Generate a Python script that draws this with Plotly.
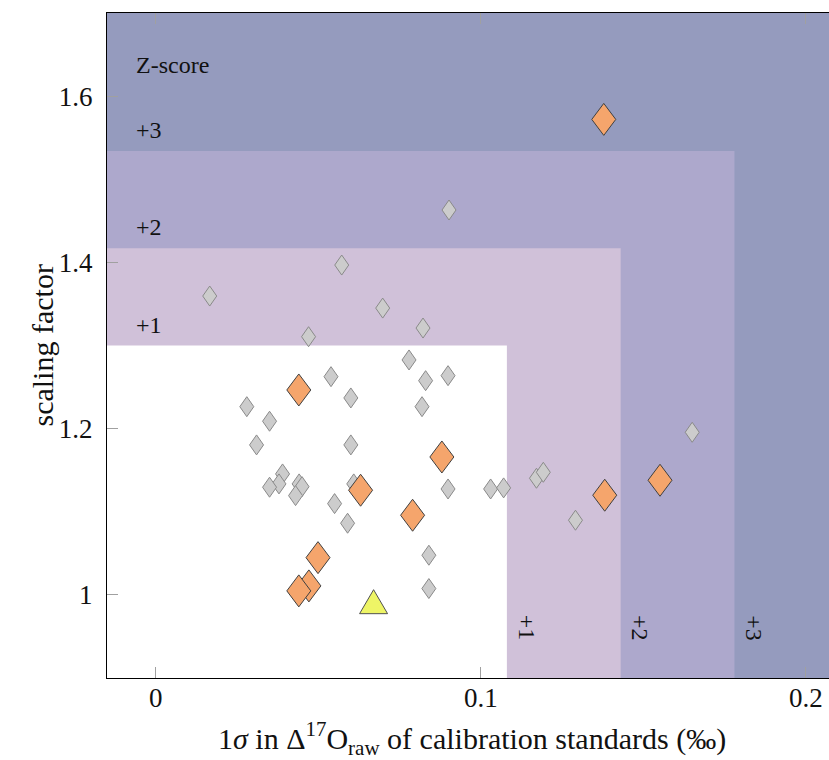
import plotly.graph_objects as go

# Calibration standards: 1-sigma spread of raw Δ17O vs. scaling factor
gray_x = [0.0166, 0.0572, 0.0698, 0.0902, 0.0822, 0.0470, 0.0779, 0.0539, 0.0830,
          0.0899, 0.0280, 0.0600, 0.0819, 0.0350, 0.0310, 0.0600, 0.0390, 0.0379,
          0.0350, 0.0441, 0.0450, 0.0430, 0.0609, 0.0899, 0.1030, 0.1070, 0.0550,
          0.0590, 0.0840, 0.0840, 0.1171, 0.1192, 0.1291, 0.1650]
gray_y = [1.3595, 1.3968, 1.3450, 1.4630, 1.3210, 1.3106, 1.2826, 1.2625, 1.2577,
          1.2637, 1.2264, 1.2369, 1.2264, 1.2089, 1.1804, 1.1804, 1.1455, 1.1335,
          1.1295, 1.1335, 1.1302, 1.1194, 1.1335, 1.1274, 1.1274, 1.1287, 1.1098,
          1.0862, 1.0477, 1.0076, 1.1403, 1.1475, 1.0898, 1.1956]

orange_x = [0.1378, 0.0440, 0.0880, 0.0630, 0.0790, 0.1381, 0.1551, 0.0499, 0.0471, 0.0440]
orange_y = [1.5720, 1.2465, 1.1659, 1.1259, 1.0958, 1.1199, 1.1379, 1.0448, 1.0108, 1.0048]

highlight_x = [0.067]
highlight_y = [0.987]

# Z-score zone boundaries (+1, +2, +3)
zone_labels = ["+1", "+2", "+3"]
zone_x = [0.108, 0.143, 0.178]
zone_y = [1.300, 1.417, 1.534]
zone_colors = ["#d0c1d9", "#ada8cc", "#959bbe"]

x_ticks = [0, 0.1, 0.2]
x_ticktext = ["0", "0.1", "0.2"]
y_ticks = [1, 1.2, 1.4, 1.6]
y_ticktext = ["1", "1.2", "1.4", "1.6"]

X_RANGE = [-0.015, 0.20708]
Y_RANGE = [0.9, 1.7]
FONT = "Liberation Serif, Times New Roman, serif"

shapes = []
# nested zones drawn from the outside in, ending with the white core
for i in (2, 1, 0):
    shapes.append(dict(type="rect", xref="x", yref="y", layer="below",
                       x0=X_RANGE[0], y0=Y_RANGE[0], x1=zone_x[i], y1=zone_y[i],
                       fillcolor=zone_colors[i - 1] if i > 0 else "white",
                       line=dict(width=0)))


def marker(x, y, path, fill, edge):
    return dict(type="path", xref="x", yref="y", layer="above",
                xsizemode="pixel", ysizemode="pixel", xanchor=x, yanchor=y,
                path=path, fillcolor=fill, line=dict(color=edge, width=1))


small_diamond = "M 0,-10 L 7,0 L 0,10 L -7,0 Z"
big_diamond = "M 0,-16 L 12,0 L 0,16 L -12,0 Z"
triangle = "M -14,-8 L 14,-8 L 0,16 Z"

for x, y in zip(gray_x, gray_y):
    shapes.append(marker(x, y, small_diamond, "#cccccc", "#8a8a8a"))
for x, y in zip(orange_x, orange_y):
    shapes.append(marker(x, y, big_diamond, "#f5a56c", "#404040"))
for x, y in zip(highlight_x, highlight_y):
    shapes.append(marker(x, y, triangle, "#eef566", "#505050"))

label_font = dict(family=FONT, size=24, color="#111")
annotations = [
    dict(x=-0.0068, y=1.638, xref="x", yref="y", text="Z-score", showarrow=False,
         xanchor="left", yanchor="middle", font=label_font),
]
for lab, zx, zy in zip(zone_labels, zone_x, zone_y):
    annotations.append(dict(x=-0.0068, y=zy + 0.025, xref="x", yref="y", text=lab,
                            showarrow=False, xanchor="left", yanchor="middle",
                            font=label_font))
    annotations.append(dict(x=zx + 0.006, y=0.96, xref="x", yref="y", text=lab,
                            showarrow=False, xanchor="center", yanchor="middle",
                            textangle=90, font=label_font))

# axis titles
annotations.append(dict(x=(472 - 107) / 722, y=-0.091, xref="paper", yref="paper",
                        text="1<i>σ</i> in Δ<sup>17</sup>O<sub>raw</sub> of calibration standards (‰)",
                        showarrow=False, xanchor="center", yanchor="middle",
                        font=dict(family=FONT, size=30, color="#111")))
annotations.append(dict(x=-0.09, y=0.5, xref="paper", yref="paper", text="scaling factor",
                        showarrow=False, xanchor="center", yanchor="middle", textangle=-90,
                        font=dict(family=FONT, size=30, color="#111")))

fig = go.Figure()
# invisible trace so the axes are set up
fig.add_trace(go.Scatter(x=gray_x, y=gray_y, mode="markers",
                         marker=dict(opacity=0), hoverinfo="skip", showlegend=False))

fig.update_layout(
    width=829, height=760,
    margin=dict(l=107, r=0, t=13, b=82),
    paper_bgcolor="white",
    plot_bgcolor=zone_colors[2],
    shapes=shapes,
    annotations=annotations,
    showlegend=False,
    font=dict(family=FONT, color="#111"),
)
fig.update_xaxes(range=X_RANGE, tickvals=x_ticks, ticktext=x_ticktext,
                 ticks="inside", ticklen=11, tickcolor="#a0a0a0", tickwidth=1,
                 showline=True, linecolor="black", linewidth=1.3, mirror="ticks",
                 showgrid=False, zeroline=False, tickfont=dict(family=FONT, size=27),
                 ticklabelstandoff=-5)
fig.update_yaxes(range=Y_RANGE, tickvals=y_ticks, ticktext=y_ticktext,
                 ticks="inside", ticklen=11, tickcolor="#a0a0a0", tickwidth=1,
                 showline=True, linecolor="black", linewidth=1.3,
                 showgrid=False, zeroline=False, tickfont=dict(family=FONT, size=27),
                 ticklabelstandoff=8)

fig.write_html("out.html")
